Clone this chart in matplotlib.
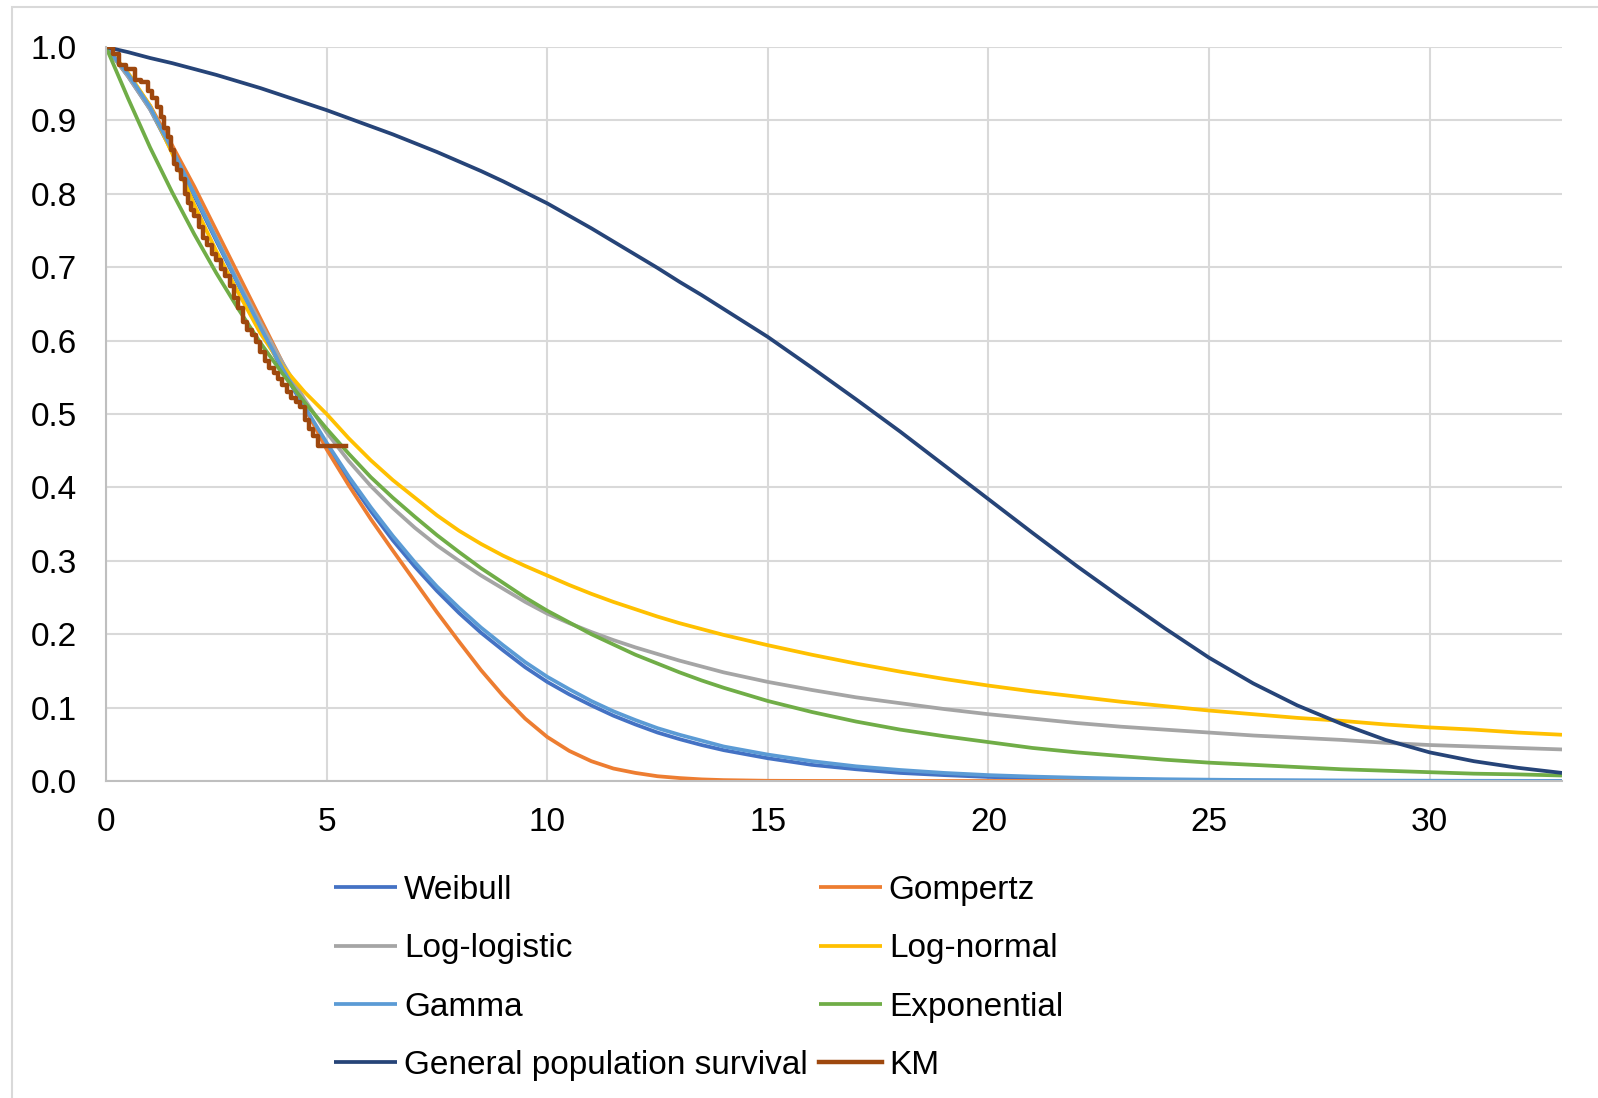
import numpy as np
import matplotlib.pyplot as plt
from matplotlib.patches import Rectangle

plt.rcParams['font.family'] = ['Liberation Sans', 'DejaVu Sans']

# ---------------- data ----------------
years = [0, 0.5, 1, 1.5, 2, 2.5, 3, 3.5, 4, 4.5, 5, 5.5, 6, 6.5,
         7, 7.5, 8, 8.5, 9, 9.5, 10, 10.5, 11, 11.5, 12, 12.5, 13, 13.5, 14,
         15, 16, 17, 18, 19, 20, 21, 22, 23, 24, 25, 26, 27, 28, 29, 30, 31, 32, 33]

weibull = [1.0, 0.96, 0.915, 0.857, 0.797, 0.736, 0.676, 0.617, 0.56, 0.508, 0.458, 0.411, 0.368, 0.328,
           0.292, 0.259, 0.229, 0.202, 0.178, 0.155, 0.135, 0.118, 0.103, 0.089, 0.077, 0.066, 0.057, 0.049, 0.042,
           0.031, 0.022, 0.016, 0.011, 0.008, 0.0055, 0.004, 0.0027, 0.0018, 0.0012, 0.0008, 0.0005, 0.0003,
           0.0002, 0.0001, 0.0001, 0.0, 0.0, 0.0]

gompertz = [1.0, 0.962, 0.92, 0.866, 0.81, 0.75, 0.69, 0.63, 0.57, 0.51, 0.452, 0.403, 0.357, 0.314,
            0.272, 0.23, 0.19, 0.151, 0.116, 0.085, 0.06, 0.041, 0.027, 0.017, 0.011, 0.0065, 0.004, 0.0022, 0.0012,
            0.0003, 0.0001, 0.0, 0.0, 0.0, 0.0, 0.0, 0.0, 0.0, 0.0, 0.0, 0.0, 0.0,
            0.0, 0.0, 0.0, 0.0, 0.0, 0.0]

loglogistic = [1.0, 0.96, 0.915, 0.86, 0.8, 0.74, 0.68, 0.624, 0.57, 0.52, 0.475, 0.436, 0.402, 0.372,
               0.345, 0.321, 0.3, 0.28, 0.262, 0.244, 0.228, 0.215, 0.203, 0.192, 0.182, 0.173, 0.164, 0.156, 0.148,
               0.135, 0.124, 0.114, 0.106, 0.098, 0.091, 0.085, 0.079, 0.074, 0.07, 0.066, 0.062, 0.059,
               0.056, 0.052, 0.049, 0.047, 0.045, 0.043]

lognormal = [1.0, 0.965, 0.92, 0.855, 0.785, 0.722, 0.665, 0.61, 0.565, 0.53, 0.5, 0.467, 0.437, 0.41,
             0.386, 0.362, 0.341, 0.323, 0.307, 0.293, 0.28, 0.267, 0.255, 0.244, 0.234, 0.224, 0.215, 0.207, 0.199,
             0.185, 0.172, 0.16, 0.149, 0.139, 0.13, 0.122, 0.115, 0.108, 0.102, 0.096, 0.091, 0.086,
             0.082, 0.077, 0.073, 0.07, 0.066, 0.063]

gamma = [1.0, 0.963, 0.918, 0.86, 0.8, 0.738, 0.677, 0.618, 0.562, 0.51, 0.461, 0.415, 0.373, 0.334,
         0.298, 0.265, 0.236, 0.209, 0.185, 0.162, 0.142, 0.125, 0.109, 0.095, 0.083, 0.072, 0.063, 0.055, 0.047,
         0.036, 0.027, 0.02, 0.015, 0.011, 0.008, 0.006, 0.0045, 0.0033, 0.0024, 0.0018, 0.0013, 0.001,
         0.0007, 0.0005, 0.0004, 0.0003, 0.0002, 0.0001]

exponential = [1.0, 0.93, 0.863, 0.802, 0.745, 0.692, 0.643, 0.597, 0.555, 0.516, 0.48, 0.446, 0.414, 0.386,
               0.36, 0.335, 0.312, 0.29, 0.27, 0.25, 0.232, 0.216, 0.2, 0.186, 0.172, 0.16, 0.148, 0.137, 0.127,
               0.109, 0.094, 0.081, 0.07, 0.061, 0.053, 0.045, 0.039, 0.034, 0.029, 0.025, 0.022, 0.019,
               0.016, 0.014, 0.012, 0.01, 0.009, 0.0075]

general_pop = [1.0, 0.993, 0.985, 0.978, 0.97, 0.962, 0.953, 0.944, 0.934, 0.924, 0.914, 0.903, 0.892, 0.881,
               0.869, 0.857, 0.844, 0.831, 0.817, 0.802, 0.787, 0.77, 0.753, 0.735, 0.717, 0.699, 0.68, 0.662, 0.643,
               0.605, 0.563, 0.52, 0.476, 0.43, 0.384, 0.338, 0.293, 0.25, 0.208, 0.168, 0.133, 0.103,
               0.078, 0.056, 0.039, 0.027, 0.018, 0.011]

km_time = [0, 0.15, 0.3, 0.45, 0.65, 0.8, 0.95, 1.05, 1.15, 1.25, 1.32, 1.4, 1.48, 1.55, 1.62,
           1.7, 1.78, 1.85, 1.92, 2.0, 2.1, 2.2, 2.3, 2.4, 2.5, 2.6, 2.7, 2.8, 2.9, 3.0,
           3.1, 3.2, 3.3, 3.4, 3.5, 3.6, 3.7, 3.8, 3.9, 4.0, 4.1, 4.2, 4.3, 4.4, 4.5,
           4.6, 4.7, 4.8, 5.45]
km_surv = [1.0, 0.99, 0.975, 0.97, 0.955, 0.952, 0.94, 0.93, 0.918, 0.905, 0.89, 0.878, 0.86, 0.84, 0.832,
           0.82, 0.8, 0.787, 0.778, 0.77, 0.755, 0.74, 0.73, 0.718, 0.71, 0.697, 0.688, 0.675, 0.658, 0.645,
           0.625, 0.615, 0.607, 0.598, 0.585, 0.572, 0.563, 0.556, 0.548, 0.54, 0.53, 0.522, 0.517, 0.51, 0.492,
           0.48, 0.47, 0.457, 0.457]

labels = ["Weibull", "Gompertz", "Log-logistic", "Log-normal", "Gamma",
          "Exponential", "General population survival", "KM"]
colours = ["#4472C4", "#ED7D31", "#A5A5A5", "#FFC000", "#5B9BD5",
           "#70AD47", "#264478", "#9E480E"]

# ---------------- figure ----------------
fig = plt.figure(figsize=(15.98, 10.98), dpi=100)
fig.patches.append(Rectangle((12 / 1598, -0.01), 1.1, 1 - 7 / 1098 + 0.01,
                             transform=fig.transFigure, fill=False,
                             edgecolor="#D9D9D9", linewidth=1.5))
ax = fig.add_axes([106 / 1598, 1 - 781 / 1098, (1562 - 106) / 1598, (781 - 47) / 1098])

series = [weibull, gompertz, loglogistic, lognormal, gamma, exponential, general_pop]
lw = 2.7
handles = []
for vals, lab, col in zip(series, labels[:7], colours[:7]):
    h, = ax.plot(years, vals, color=col, lw=lw, label=lab, solid_capstyle="butt",
                 solid_joinstyle="round")
    handles.append(h)
h, = ax.plot(km_time, km_surv, color=colours[7], lw=3.2, drawstyle="steps-post", label="KM")
handles.append(h)

ax.set_xlim(0, 33)
ax.set_ylim(0, 1.0)
ax.set_xticks([0, 5, 10, 15, 20, 25, 30])
ax.set_yticks(np.arange(0, 1.01, 0.1))
ax.set_yticklabels([f"{v:.1f}" for v in np.arange(0, 1.01, 0.1)])
ax.grid(True, color="#D9D9D9", linewidth=1.5)
ax.set_axisbelow(True)
for s in ["top", "right"]:
    ax.spines[s].set_visible(False)
for s in ["left", "bottom"]:
    ax.spines[s].set_color("#BFBFBF")
    ax.spines[s].set_linewidth(1.5)
ax.tick_params(axis="both", length=0, labelsize=24, colors="#000000")
ax.tick_params(axis="x", pad=19)
ax.tick_params(axis="y", pad=21)

# legend, row-wise in two columns
order = [0, 2, 4, 6, 1, 3, 5, 7]
fig.legend([handles[i] for i in order], [labels[i] for i in order],
           loc="upper left", bbox_to_anchor=(334 / 1598, 1 - 875 / 1098),
           ncol=2, frameon=False, fontsize=24, handlelength=1.9,
           handletextpad=0.2, columnspacing=0.33, labelspacing=0.82,
           borderpad=0, borderaxespad=0)

fig.savefig("out.png", dpi=100, facecolor="white")
